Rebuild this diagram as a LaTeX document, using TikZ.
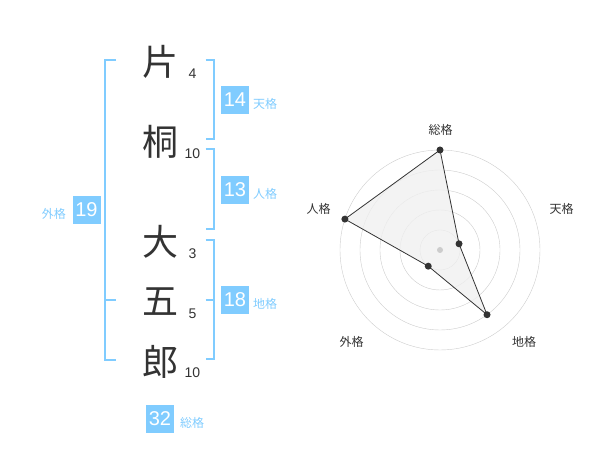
\documentclass[tikz,border=0pt]{standalone}
\usepackage{fontspec}
\setmainfont{Liberation Sans}
\newfontfamily\jpfont{Noto Sans CJK JP}
\usepackage{tikz}
\usetikzlibrary{calc}
\definecolor{skyb}{RGB}{128,204,255}
\definecolor{ink}{RGB}{51,51,51}
\definecolor{ringgray}{RGB}{204,204,204}
\definecolor{areagray}{RGB}{240,240,240}

\begin{document}
\begin{tikzpicture}[x=1pt,y=1pt,
    kanji/.style={font=\jpfont\fontsize{36}{36}\selectfont,text=ink,inner sep=0pt},
    strokes/.style={font=\fontsize{14}{14}\selectfont,text=ink,inner sep=0pt},
    kakubox/.style={fill=skyb,text=white,minimum size=28pt,inner sep=0pt,font=\fontsize{20}{20}\selectfont},
    kakulab/.style={font=\jpfont\fontsize{12}{12}\selectfont,text=skyb,inner sep=0pt},
    bracket/.style={draw=skyb,line width=2pt},
    axislab/.style={font=\jpfont\fontsize{12}{12}\selectfont,text=ink,inner sep=0pt},
    dot/.style={circle,fill=ink,inner sep=0pt,minimum size=7pt}]
  \useasboundingbox (0,0) rectangle (600,470);
  % name and strokes
  \node[kanji](k1)at(160,408){片};
  \node[kanji](k2)at(160,328){桐};
  \node[kanji](k3)at(160,228){大};
  \node[kanji](k4)at(160,168){五};
  \node[kanji](k5)at(160,108){郎};
  \node[strokes](s1)at(192.5,396.5){4};
  \node[strokes](s2)at(192.5,316.5){10};
  \node[strokes](s3)at(192.5,216.5){3};
  \node[strokes](s4)at(192.5,156.5){5};
  \node[strokes](s5)at(192.5,97){10};
  % brackets
  \draw[bracket] (116,410) -- (105,410) -- (105,110) -- (116,110);
  \draw[bracket] (105,170) -- (116,170);
  \draw[bracket] (205.5,410) -- (214,410) -- (214,331) -- (205.5,331);
  \draw[bracket] (205.5,321) -- (214,321) -- (214,241) -- (205.5,241);
  \draw[bracket] (205.5,230) -- (214,230) -- (214,111) -- (205.5,111);
  \draw[bracket] (205.5,170) -- (214,170);
  % boxes
  \node[kakubox](ten)at(235,370){14};
  \node[kakulab,anchor=west]at(253,366){天格};
  \node[kakubox](jin)at(235,280){13};
  \node[kakulab,anchor=west]at(253,276){人格};
  \node[kakubox](gai)at(86.5,260){19};
  \node[kakulab,anchor=east]at(66,256){外格};
  \node[kakubox](chi)at(235,170){18};
  \node[kakulab,anchor=west]at(253,166){地格};
  \node[kakubox](sou)at(160,51){32};
  \node[kakulab,anchor=west]at(180,47){総格};
  % radar
  \begin{scope}[shift={(440,220)}]
    \foreach \r in {20,40,60,80,100}
      \draw[ringgray] (0,0) circle (\r);
    \coordinate (p1) at (90:100);
    \coordinate (p2) at (18:20);
    \coordinate (p3) at (-54:80);
    \coordinate (p4) at (-126:20);
    \coordinate (p5) at (162:100);
    \fill[areagray,opacity=0.8] (p1) -- (p2) -- (p3) -- (p4) -- (p5) -- cycle;
    \fill[ringgray] (0,0) circle (3);
    \draw[ink,line width=0.8pt] (p1) -- (p2) -- (p3) -- (p4) -- (p5) -- cycle;
    \node[dot](a)at(p1){};
    \node[dot](b)at(p2){};
    \node[dot](c)at(p3){};
    \node[dot](d)at(p4){};
    \node[dot](e)at(p5){};
    \node[axislab](l1)at(0.5,120){総格};
    \node[axislab](l2)at(121.5,41.5){天格};
    \node[axislab](l3)at(84,-91.5){地格};
    \node[axislab](l4)at(-88.5,-91.5){外格};
    \node[axislab](l5)at(-121.5,41.5){人格};
  \end{scope}
\end{tikzpicture}
\end{document}
